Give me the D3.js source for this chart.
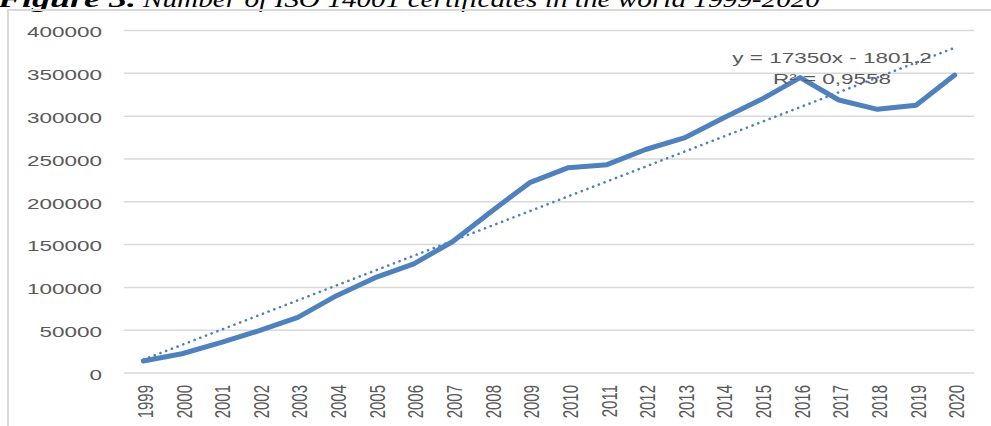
<!DOCTYPE html>
<html>
<head>
<meta charset="utf-8">
<script src="https://cdn.jsdelivr.net/npm/d3@7"></script>
<style>
  body { margin: 0; background: #fff; }
  svg { display: block; }
</style>
</head>
<body>
<svg id="chart" width="991" height="426"></svg>
<script>
// data
var years = ["1999","2000","2001","2002","2003","2004","2005","2006","2007","2008","2009",
             "2010","2011","2012","2013","2014","2015","2016","2017","2018","2019","2020"];
var certificates = [14000, 22500, 35500, 49400, 65000, 90300, 111300, 127500, 153300, 188400, 222300,
                    239800, 243300, 261000, 274500, 297500, 319600, 345000, 318800, 307900, 312600, 348000];
var yTicks = [0, 50000, 100000, 150000, 200000, 250000, 300000, 350000, 400000];
var trendSlope = 17350, trendIntercept = -1801.2;
var trendLabel = ["y = 17350x - 1801,2", "R\u00b2 = 0,9558"];

var svg = d3.select("#chart");
var blue = "#4f81bd", grey = "#595959", gridCol = "#d9d9d9";
var stretch = 1.5;   // the source image is widened horizontally

// title, clipped at the top of the picture
svg.append("text")
    .attr("x", -2).attr("y", 7)
    .attr("textLength", 138).attr("lengthAdjust", "spacingAndGlyphs")
    .style("font-family", "Liberation Serif").style("font-size", "23px")
    .style("font-weight", "bold").style("font-style", "italic")
    .text("Figure 3.");
svg.append("text")
    .attr("x", 143).attr("y", 7)
    .attr("textLength", 677).attr("lengthAdjust", "spacingAndGlyphs")
    .style("font-family", "Liberation Serif").style("font-size", "23px")
    .style("font-style", "italic")
    .text("Number of ISO 14001 certificates in the world 1999-2020");

// chart frame
svg.append("rect")
    .attr("x", 8).attr("y", 10).attr("width", 1000).attr("height", 500)
    .style("fill", "none").style("stroke", gridCol).style("stroke-width", 2);

var xScale = d3.scaleBand().domain(years).range([124, 974]);
var yScale = d3.scaleLinear().domain([0, 400000]).range([373, 30.5]);
var xc = function(d) { return xScale(d) + xScale.bandwidth() / 2; };

// gridlines
svg.selectAll(".grid")
    .data(yTicks)
    .enter().append("line")
    .attr("class", "grid")
    .attr("x1", 124).attr("x2", 974)
    .attr("y1", function(d) { return yScale(d); })
    .attr("y2", function(d) { return yScale(d); })
    .style("stroke", gridCol).style("stroke-width", 1.5);

// y labels
svg.selectAll(".ylab")
    .data(yTicks)
    .enter().append("text")
    .attr("class", "ylab")
    .attr("transform", function(d) { return "translate(102," + (yScale(d) + 1.5) + ") scale(" + stretch + ",1)"; })
    .attr("dy", "0.36em")
    .style("text-anchor", "end")
    .style("font-family", "Liberation Sans").style("font-size", "15px")
    .style("fill", grey)
    .text(function(d) { return d; });

// x labels, rotated
svg.selectAll(".xlab")
    .data(years)
    .enter().append("text")
    .attr("class", "xlab")
    .attr("transform", function(d) { return "translate(" + (xc(d) + 1.5) + ",385) scale(" + stretch + ",1) rotate(-90)"; })
    .attr("dy", "0.36em")
    .style("text-anchor", "end")
    .style("font-family", "Liberation Sans").style("font-size", "15px")
    .style("fill", grey)
    .text(function(d) { return d; });

// linear trend (dotted)
var trend = years.map(function(y, i) { return { year: y, v: trendSlope * (i + 1) + trendIntercept }; });
svg.append("path")
    .datum(trend)
    .attr("d", d3.line().x(function(d) { return xc(d.year); }).y(function(d) { return yScale(d.v); }))
    .style("fill", "none").style("stroke", blue)
    .style("stroke-width", 2.6).style("stroke-linecap", "round")
    .style("stroke-dasharray", "0.1 6");

// main series
svg.append("path")
    .datum(certificates)
    .attr("d", d3.line().x(function(d, i) { return xc(years[i]); }).y(function(d) { return yScale(d); }))
    .style("fill", "none").style("stroke", blue)
    .style("stroke-width", 5).style("stroke-linejoin", "round").style("stroke-linecap", "round");

// trend equation
svg.selectAll(".eq")
    .data(trendLabel)
    .enter().append("text")
    .attr("class", "eq")
    .attr("transform", function(d, i) { return "translate(832," + (63 + i * 21) + ") scale(" + stretch + ",1)"; })
    .style("text-anchor", "middle")
    .style("font-family", "Liberation Sans").style("font-size", "15px")
    .style("fill", grey)
    .text(function(d) { return d; });
</script>
</body>
</html>
